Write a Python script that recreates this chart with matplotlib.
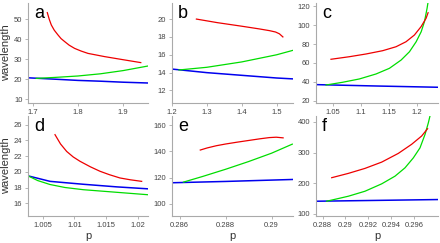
import matplotlib
matplotlib.use('Agg')
import matplotlib.pyplot as plt

plt.rcParams['font.family'] = ['Liberation Sans', 'DejaVu Sans']

# ---- data: (p, wavelength) per curve ----
# panel a
a_red_p   = [1.7326, 1.7370, 1.7415, 1.7480, 1.7563, 1.7630, 1.7710, 1.7810, 1.7930,
             1.8070, 1.8225, 1.8590, 1.8960, 1.9390]
a_red_w   = [53.2, 49.8, 47.0, 44.4, 42.0, 40.2, 38.7, 36.9, 35.3, 34.0, 32.8, 31.2, 29.8, 28.2]
a_green_p = [1.708, 1.750, 1.800, 1.850, 1.900, 1.955]
a_green_w = [20.3, 20.8, 21.5, 22.6, 24.2, 26.5]
a_blue_p  = [1.690, 1.750, 1.800, 1.850, 1.900, 1.955]
a_blue_w  = [20.6, 19.9, 19.3, 18.9, 18.4, 18.0]

# panel b
b_red_p   = [1.270, 1.330, 1.400, 1.450, 1.480, 1.497, 1.508, 1.518]
b_red_w   = [20.0, 19.6, 19.2, 18.9, 18.7, 18.55, 18.35, 18.0]
b_green_p = [1.220, 1.300, 1.400, 1.500, 1.547]
b_green_w = [14.3, 14.6, 15.2, 16.0, 16.5]
b_blue_p  = [1.200, 1.300, 1.400, 1.500, 1.547]
b_blue_w  = [14.4, 14.0, 13.7, 13.4, 13.3]

# panel c
c_red_p   = [1.0459, 1.0788, 1.1088, 1.1387, 1.1627, 1.1806, 1.1956, 1.2076, 1.2166, 1.2202]
c_red_w   = [63.9, 66.6, 69.5, 73.0, 77.2, 82.5, 89.6, 98.5, 107.4, 113.3]
c_green_p = [1.0370, 1.0669, 1.0968, 1.1268, 1.1508, 1.1718, 1.1868, 1.1988, 1.2078,
             1.2137, 1.2184, 1.2200]
c_green_w = [36.6, 39.5, 43.0, 48.3, 54.3, 63.1, 71.9, 82.5, 93.1, 103.8, 118.0, 124.0]
c_blue_p  = [1.019, 1.130, 1.238]
c_blue_w  = [37.0, 35.5, 34.2]

# panel d
d_red_p   = [1.00693, 1.00780, 1.00877, 1.00980, 1.01087, 1.01250, 1.01403, 1.01550,
             1.01718, 1.01880, 1.0206]
d_red_w   = [24.73, 23.55, 22.6, 21.9, 21.35, 20.65, 20.08, 19.65, 19.23, 19.0, 18.8]
d_green_p = [1.00267, 1.00420, 1.00614, 1.00850, 1.01140, 1.01666, 1.0216]
d_green_w = [19.5, 18.9, 18.4, 18.02, 17.74, 17.41, 17.1]
d_blue_p  = [1.00267, 1.00614, 1.01140, 1.01666, 1.0216]
d_blue_w  = [19.5, 18.8, 18.43, 18.1, 17.85]

# panel e
e_red_p   = [0.2869, 0.2872, 0.2876, 0.2880, 0.2885, 0.2890, 0.2895, 0.2899, 0.2902, 0.2905]
e_red_w   = [141.0, 142.6, 144.3, 145.6, 147.0, 148.3, 149.6, 150.5, 150.8, 150.3]
e_green_p = [0.28617, 0.2870, 0.2880, 0.2890, 0.2900, 0.2909]
e_green_w = [116.5, 120.8, 126.3, 132.2, 138.6, 145.5]
e_blue_p  = [0.28567, 0.2880, 0.2909]
e_blue_w  = [116.0, 117.0, 118.5]

# panel f
f_red_p   = [0.28880, 0.29025, 0.29170, 0.29316, 0.29461, 0.29577, 0.29664, 0.29716]
f_red_w   = [217.8, 231.9, 248.2, 268.8, 297.3, 327.0, 354.0, 378.0]
f_green_p = [0.28836, 0.29025, 0.29170, 0.29316, 0.29432, 0.29519, 0.29592, 0.29650,
             0.29694, 0.29723, 0.29737]
f_green_w = [140.8, 157.2, 173.5, 197.7, 222.8, 250.0, 282.7, 315.4, 359.5, 397.6, 419.6]
f_blue_p  = [0.28743, 0.29807]
f_blue_w  = [140.8, 146.3]

panels = [
    ('a', (a_red_p, a_red_w), (a_green_p, a_green_w), (a_blue_p, a_blue_w),
     (1.69, 1.955), (8, 58), [1.7, 1.8, 1.9], ['1.7', '1.8', '1.9'], [10, 20, 30, 40, 50]),
    ('b', (b_red_p, b_red_w), (b_green_p, b_green_w), (b_blue_p, b_blue_w),
     (1.2, 1.547), (10.6, 21.8), [1.2, 1.3, 1.4, 1.5], ['1.2', '1.3', '1.4', '1.5'], [12, 14, 16, 18, 20]),
    ('c', (c_red_p, c_red_w), (c_green_p, c_green_w), (c_blue_p, c_blue_w),
     (1.019, 1.238), (17.5, 123.6), [1.05, 1.1, 1.15, 1.2], ['1.05', '1.1', '1.15', '1.2'], [20, 40, 60, 80, 100, 120]),
    ('d', (d_red_p, d_red_w), (d_green_p, d_green_w), (d_blue_p, d_blue_w),
     (1.00267, 1.0216), (14.4, 27.1), [1.005, 1.01, 1.015, 1.02], ['1.005', '1.01', '1.015', '1.02'], [16, 18, 20, 22, 24, 26]),
    ('e', (e_red_p, e_red_w), (e_green_p, e_green_w), (e_blue_p, e_blue_w),
     (0.28567, 0.29093), (90.6, 167), [0.286, 0.288, 0.29], ['0.286', '0.288', '0.29'], [100, 120, 140, 160]),
    ('f', (f_red_p, f_red_w), (f_green_p, f_green_w), (f_blue_p, f_blue_w),
     (0.28743, 0.29807), (92.5, 419.6), [0.288, 0.29, 0.292, 0.294, 0.296],
     ['0.288', '0.29', '0.292', '0.294', '0.296'], [100, 200, 300, 400]),
]

W, H = 440, 243
fig = plt.figure(figsize=(W/100, H/100), dpi=100)

lefts = [28, 172, 316]
widths = [120, 121, 122]
tops = [3, 116]
ax_h = 100

for i, (lab, red, green, blue, xl, yl, xt, xtl, yt) in enumerate(panels):
    row, col = divmod(i, 3)
    l, w, t = lefts[col], widths[col], tops[row]
    ax = fig.add_axes([l/W, (H - t - ax_h)/H, w/W, ax_h/H])
    ax.plot(*blue, color='#0000ee', lw=1.1)
    ax.plot(*green, color='#00dd00', lw=0.9)
    ax.plot(*red, color='#ee0000', lw=0.9)
    ax.set_xlim(*xl)
    ax.set_ylim(*yl)
    ax.set_xticks(xt)
    ax.set_xticklabels(xtl)
    ax.set_yticks(yt)
    for s in ('top', 'right'):
        ax.spines[s].set_visible(False)
    for s in ('left', 'bottom'):
        ax.spines[s].set_color('#aaaaaa')
        ax.spines[s].set_linewidth(0.8)
    ax.tick_params(labelsize=5.5, labelcolor='#444444', color='#aaaaaa',
                   length=2, width=0.6, pad=2)
    ax.text(0.05, 0.98, lab, transform=ax.transAxes, fontsize=13,
            va='top', ha='left', color='black')
    if col == 0:
        ax.set_ylabel('wavelength', fontsize=8, color='#333333', labelpad=2)
    if row == 1:
        ax.set_xlabel('p', fontsize=8, color='#333333', labelpad=2)

fig.savefig('out.png', dpi=100)
